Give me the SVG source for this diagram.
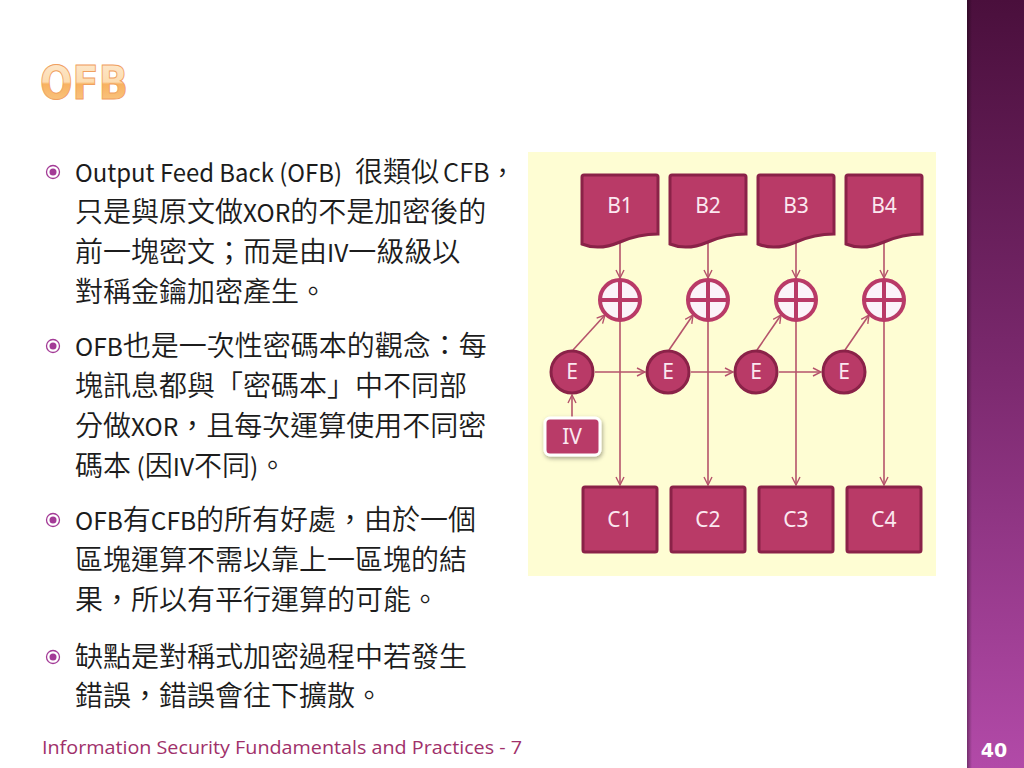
<svg xmlns="http://www.w3.org/2000/svg" width="1024" height="768" viewBox="0 0 1024 768">
<defs>
<linearGradient id="bar" x1="0" y1="0" x2="0" y2="1">
<stop offset="0" stop-color="#4a0f3c"/>
<stop offset="0.5" stop-color="#7d2a70"/>
<stop offset="1" stop-color="#b24aa8"/>
</linearGradient>
<linearGradient id="barEdge" x1="0" y1="0" x2="1" y2="0">
<stop offset="0" stop-color="#000" stop-opacity="0.35"/>
<stop offset="1" stop-color="#000" stop-opacity="0"/>
</linearGradient>
<linearGradient id="title" x1="0" y1="0" x2="0" y2="1">
<stop offset="0" stop-color="#fdebd3"/>
<stop offset="0.48" stop-color="#fcdcb0"/>
<stop offset="0.52" stop-color="#f8b260"/>
<stop offset="1" stop-color="#f9cd90"/>
</linearGradient>
<marker id="arr" viewBox="0 0 10 10" refX="9" refY="5" markerWidth="10" markerHeight="10" markerUnits="userSpaceOnUse" orient="auto">
<path d="M1,1 L9,5 L1,9" fill="none" stroke="#b5536b" stroke-width="1.4"/>
</marker>
<filter id="sh" x="-30%" y="-30%" width="160%" height="160%">
<feDropShadow dx="1" dy="2" stdDeviation="2" flood-color="#000" flood-opacity="0.35"/>
</filter>
</defs>
<style>
.body{font-family:"Noto Sans CJK TC","Noto Sans",sans-serif;font-size:28px;font-weight:350;fill:#1c1c1c}
.lat{font-size:24.5px;font-weight:400}
.node{fill:#b93a67;stroke:#8a2248;stroke-width:3}
.lbl{font-family:"Noto Sans","Liberation Sans",sans-serif;font-size:21px;fill:#fbe8f0;text-anchor:middle}
.xor{fill:#fbf3f9;stroke:#b93a67;stroke-width:4}
.xl{stroke:#b93a67;stroke-width:4}
.con{fill:none;stroke:#b5536b;stroke-width:1.6}
.bul{fill:none;stroke:#a33a96;stroke-width:1.3}
.bd{fill:#a33a96}
</style>
<rect x="0" y="0" width="1024" height="768" fill="#ffffff"/>
<rect x="967" y="0" width="57" height="768" fill="url(#bar)"/>
<rect x="967" y="0" width="5" height="768" fill="url(#barEdge)"/>
<text x="994" y="757" font-family="'DejaVu Sans','Liberation Sans',sans-serif" font-weight="bold" font-size="19" fill="#ffffff" text-anchor="middle">40</text>

<text x="40" y="99" font-family="'DejaVu Sans','Liberation Sans',sans-serif" font-weight="bold" font-size="46" fill="url(#title)" stroke="#f0a060" stroke-width="1" textLength="88" lengthAdjust="spacingAndGlyphs">OFB</text>

<g id="bullets">
<circle class="bul" cx="53" cy="172" r="6.5"/><circle class="bd" cx="53" cy="172" r="3.5"/>
<circle class="bul" cx="53" cy="346" r="6.5"/><circle class="bd" cx="53" cy="346" r="3.5"/>
<circle class="bul" cx="53" cy="520" r="6.5"/><circle class="bd" cx="53" cy="520" r="3.5"/>
<circle class="bul" cx="53" cy="657" r="6.5"/><circle class="bd" cx="53" cy="657" r="3.5"/>
<text class="body" x="75" y="182"><tspan class="lat" textLength="267" lengthAdjust="spacingAndGlyphs">Output Feed Back (OFB)</tspan><tspan x="355">很類似</tspan><tspan x="443" style="font-size:25.5px">CFB，</tspan></text>
<text class="body" x="75" y="222">只是與原文做<tspan class="lat">XOR</tspan>的不是加密後的</text>
<text class="body" x="75" y="262">前一塊密文；而是由<tspan class="lat">IV</tspan>一級級以</text>
<text class="body" x="75" y="302">對稱金鑰加密產生。</text>
<text class="body" x="75" y="356"><tspan class="lat">OFB</tspan>也是一次性密碼本的觀念：每</text>
<text class="body" x="75" y="396">塊訊息都與「密碼本」中不同部</text>
<text class="body" x="75" y="436">分做<tspan class="lat">XOR</tspan>，且每次運算使用不同密</text>
<text class="body" x="75" y="476">碼本<tspan class="lat"> (</tspan>因<tspan class="lat">IV</tspan>不同<tspan class="lat">)</tspan>。</text>
<text class="body" x="75" y="530"><tspan class="lat">OFB</tspan>有<tspan class="lat">CFB</tspan>的所有好處，由於一個</text>
<text class="body" x="75" y="570">區塊運算不需以靠上一區塊的結</text>
<text class="body" x="75" y="610">果，所以有平行運算的可能。</text>
<text class="body" x="75" y="667">缺點是對稱式加密過程中若發生</text>
<text class="body" x="75" y="706">錯誤，錯誤會往下擴散。</text>
</g>

<text x="42" y="754" font-family="'Open Sans','Noto Sans',sans-serif" font-size="19" fill="#a0306a" textLength="480" lengthAdjust="spacingAndGlyphs">Information Security Fundamentals and Practices - 7</text>

<rect x="528" y="152" width="408" height="424" fill="#fefdd3"/>

<g id="connectors">
<line class="con" x1="620" y1="242" x2="620" y2="278" marker-end="url(#arr)"/>
<line class="con" x1="708" y1="242" x2="708" y2="278" marker-end="url(#arr)"/>
<line class="con" x1="796" y1="242" x2="796" y2="278" marker-end="url(#arr)"/>
<line class="con" x1="884" y1="242" x2="884" y2="278" marker-end="url(#arr)"/>
<line class="con" x1="620" y1="321" x2="620" y2="485" marker-end="url(#arr)"/>
<line class="con" x1="708" y1="321" x2="708" y2="485" marker-end="url(#arr)"/>
<line class="con" x1="796" y1="321" x2="796" y2="485" marker-end="url(#arr)"/>
<line class="con" x1="884" y1="321" x2="884" y2="485" marker-end="url(#arr)"/>
<line class="con" x1="573" y1="350" x2="605" y2="315" marker-end="url(#arr)"/>
<line class="con" x1="669" y1="350" x2="693" y2="315" marker-end="url(#arr)"/>
<line class="con" x1="757" y1="350" x2="781" y2="315" marker-end="url(#arr)"/>
<line class="con" x1="845" y1="350" x2="869" y2="315" marker-end="url(#arr)"/>
<line class="con" x1="595" y1="372" x2="645" y2="372" marker-end="url(#arr)"/>
<line class="con" x1="691" y1="372" x2="733" y2="372" marker-end="url(#arr)"/>
<line class="con" x1="779" y1="372" x2="821" y2="372" marker-end="url(#arr)"/>
<line class="con" x1="572" y1="417" x2="572" y2="395" marker-end="url(#arr)"/>
</g>

<g id="B1"><path class="node" d="M584,175 H656 Q658,175 658,177 V234 C646,234 634,236 620,242 C606,248 594,249 582,244 V177 Q582,175 584,175 Z"/><text class="lbl" x="620" y="213">B1</text></g>
<g id="B2"><path class="node" d="M672,175 H744 Q746,175 746,177 V234 C734,234 722,236 708,242 C694,248 682,249 670,244 V177 Q670,175 672,175 Z"/><text class="lbl" x="708" y="213">B2</text></g>
<g id="B3"><path class="node" d="M760,175 H832 Q834,175 834,177 V234 C822,234 810,236 796,242 C782,248 770,249 758,244 V177 Q758,175 760,175 Z"/><text class="lbl" x="796" y="213">B3</text></g>
<g id="B4"><path class="node" d="M848,175 H920 Q922,175 922,177 V234 C910,234 898,236 884,242 C870,248 858,249 846,244 V177 Q846,175 848,175 Z"/><text class="lbl" x="884" y="213">B4</text></g>

<g id="X1"><circle class="xor" cx="620" cy="300" r="20"/><line class="xl" x1="600" y1="300" x2="640" y2="300"/><line class="xl" x1="620" y1="280" x2="620" y2="320"/></g>
<g id="X2"><circle class="xor" cx="708" cy="300" r="20"/><line class="xl" x1="688" y1="300" x2="728" y2="300"/><line class="xl" x1="708" y1="280" x2="708" y2="320"/></g>
<g id="X3"><circle class="xor" cx="796" cy="300" r="20"/><line class="xl" x1="776" y1="300" x2="816" y2="300"/><line class="xl" x1="796" y1="280" x2="796" y2="320"/></g>
<g id="X4"><circle class="xor" cx="884" cy="300" r="20"/><line class="xl" x1="864" y1="300" x2="904" y2="300"/><line class="xl" x1="884" y1="280" x2="884" y2="320"/></g>

<g id="E1"><circle class="node" cx="572" cy="372" r="21"/><text class="lbl" x="572" y="379">E</text></g>
<g id="E2"><circle class="node" cx="668" cy="372" r="21"/><text class="lbl" x="668" y="379">E</text></g>
<g id="E3"><circle class="node" cx="756" cy="372" r="21"/><text class="lbl" x="756" y="379">E</text></g>
<g id="E4"><circle class="node" cx="844" cy="372" r="21"/><text class="lbl" x="844" y="379">E</text></g>

<g id="IV"><rect x="545" y="418" width="55" height="37" rx="5" fill="#b93a67" stroke="#ffffff" stroke-width="3" filter="url(#sh)"/><text class="lbl" x="572" y="444">IV</text></g>

<g id="C1"><rect class="node" x="583" y="487" width="74" height="65" rx="2"/><text class="lbl" x="620" y="527">C1</text></g>
<g id="C2"><rect class="node" x="671" y="487" width="74" height="65" rx="2"/><text class="lbl" x="708" y="527">C2</text></g>
<g id="C3"><rect class="node" x="759" y="487" width="74" height="65" rx="2"/><text class="lbl" x="796" y="527">C3</text></g>
<g id="C4"><rect class="node" x="847" y="487" width="74" height="65" rx="2"/><text class="lbl" x="884" y="527">C4</text></g>
</svg>
